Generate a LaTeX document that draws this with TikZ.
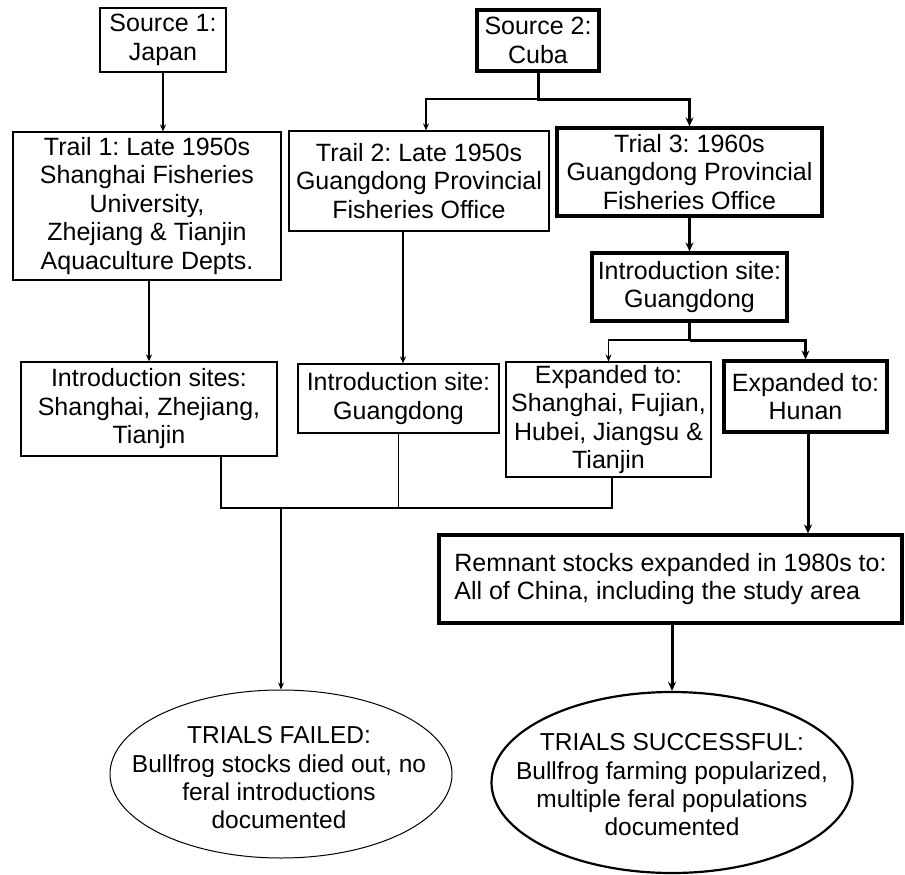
\documentclass[tikz,border=0pt]{standalone}
\usepackage{fontspec}
\setmainfont{Liberation Sans}
\usetikzlibrary{arrows.meta,shapes.geometric}
\newcommand\bxfont{\frenchspacing\fontsize{25}{28.5}\selectfont}
\newcommand\elfont{\frenchspacing\fontsize{24.5}{28.3}\selectfont}
\frenchspacing
\begin{document}
\begin{tikzpicture}[x=1pt,y=-1pt,
  box/.style={draw, line width=1.2pt, inner sep=0pt, align=center, font=\bxfont},
  heavybox/.style={box, line width=3.2pt},
  thinline/.style={line width=1.2pt, -{Stealth[length=7pt,width=6pt]}},
  heavyline/.style={line width=3pt, line join=miter, -{Stealth[length=9pt,width=8pt]}},
  plainline/.style={line width=1.2pt},
  oval/.style={draw, ellipse, inner sep=0pt},
  ovaltext/.style={align=center, font=\elfont, inner sep=0pt}
]
\useasboundingbox (0,0) rectangle (905,875);

\node[box, minimum width=126pt, minimum height=64pt] (src1) at (163,40) {Source 1:\\Japan};
\node[heavybox, minimum width=122pt, minimum height=61pt] (src2) at (538,40.5) {Source 2:\\Cuba};
\node[box, minimum width=268pt, minimum height=148pt] (tr1) at (147,206)
  {Trail 1: Late 1950s\\Shanghai Fisheries\\University,\\Zhejiang \& Tianjin\\Aquaculture Depts.};
\node[box, minimum width=260pt, minimum height=100pt] (tr2) at (419,181)
  {Trail 2: Late 1950s\\Guangdong Provincial\\Fisheries Office};
\node[heavybox, minimum width=265pt, minimum height=88pt] (tr3) at (689.5,172)
  {Trial 3: 1960s\\Guangdong Provincial\\Fisheries Office};
\node[heavybox, minimum width=195pt, minimum height=68pt] (inR) at (689.5,287)
  {Introduction site:\\Guangdong};
\node[box, minimum width=256pt, minimum height=94pt] (inL) at (149,409)
  {Introduction sites:\\Shanghai, Zhejiang,\\Tianjin};
\node[box, minimum width=201pt, minimum height=69pt] (inM) at (398.5,398.5)
  {Introduction site:\\Guangdong};
\node[box, minimum width=205pt, minimum height=115pt] (ex1) at (608.5,419.5)
  {Expanded to:\\Shanghai, Fujian,\\Hubei, Jiangsu \&\\Tianjin};
\node[heavybox, minimum width=163pt, minimum height=71pt] (hun) at (805.5,396.5)
  {Expanded to:\\Hunan};
\node[heavybox, minimum width=463pt, minimum height=88pt, align=left] (rem) at (670.5,579)
  {Remnant stocks expanded in 1980s to:\\All of China, including the study area};

\node[oval, line width=1pt, minimum width=342pt, minimum height=168pt] (fail) at (281,774) {};
\node[ovaltext] (failtext) at (279,778)
  {TRIALS FAILED:\\Bullfrog stocks died out, no\\feral introductions\\documented};
\node[oval, line width=2.2pt, minimum width=361pt, minimum height=181pt] (succ) at (672,782.5) {};
\node[ovaltext] (succtext) at (672,785)
  {TRIALS SUCCESSFUL:\\Bullfrog farming popularized,\\multiple feral populations\\documented};

\coordinate (s2j) at (538,99);
\coordinate (inj) at (689.5,340);
\coordinate (bus) at (0,508);

% source 1 -> trail 1
\draw[thinline] (src1.south) -- (src1.south |- tr1.north);
% source 2 split
\draw[thinline] (s2j) -| ([xshift=7pt]tr2.north);
\draw[heavyline] (src2.south) -- (s2j) -| (tr3.north);
% trail -> introduction
\draw[thinline] (inL.north |- tr1.south) -- (inL.north);
\draw[thinline] ([xshift=4.5pt]inM.north |- tr2.south) -- ([xshift=4.5pt]inM.north);
\draw[heavyline] (tr3.south) -- (inR.north);
% intro R split
\draw[line width=3pt] (inR.south) -- (inj);
\draw[thinline] (inj) -| (ex1.north);
\draw[heavyline] (inj) -| (hun.north);
% hunan -> remnant -> success
\draw[heavyline] ([xshift=2.5pt]hun.south) -- ([xshift=2.5pt]hun.south |- rem.north);
\draw[heavyline] (rem.south -| succ.north) -- (succ.north);
% collector to failure
\draw[plainline] ([xshift=72pt]inL.south) -- ([xshift=72pt]inL.south |- bus)
  -- ([xshift=3.5pt]ex1.south |- bus) -- ([xshift=3.5pt]ex1.south);
\draw[plainline] (inM.south) -- (inM.south |- bus);
\draw[thinline] (fail.north |- bus) -- (fail.north);
\end{tikzpicture}
\end{document}
